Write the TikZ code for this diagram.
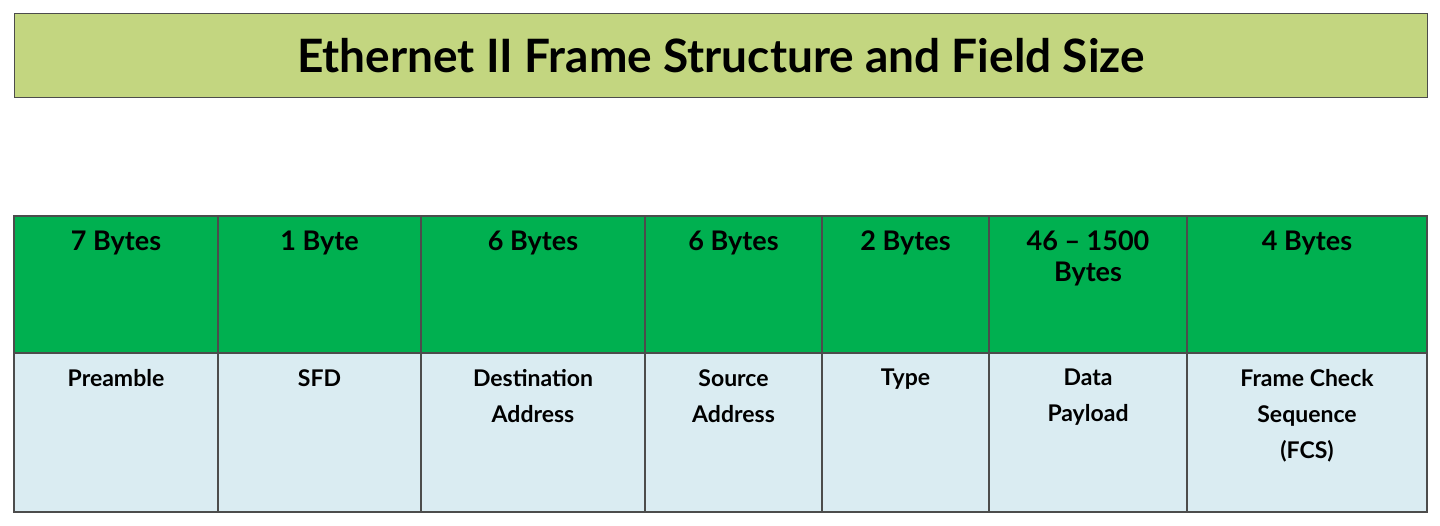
\documentclass[tikz,border=0pt]{standalone}
\usepackage{fontspec}
\setmainfont{Lato}
\definecolor{titlegreen}{RGB}{195,214,128}
\definecolor{hdrgreen}{RGB}{0,176,80}
\definecolor{cellblue}{RGB}{218,236,242}
\begin{document}
\begin{tikzpicture}[x=1pt,y=-1pt,
  cellline/.style={draw=black!70,line width=1.2pt},
  top/.style={anchor=north,align=center,font=\fontsize{27}{31}\selectfont\bfseries,inner sep=0},
  bot/.style={anchor=north,align=center,font=\fontsize{23}{36}\selectfont\bfseries,inner sep=0}]
\useasboundingbox (0,0) rectangle (1440,526);
\node[draw=black!70,line width=1.2pt,fill=titlegreen,minimum width=1413pt,minimum height=84pt,inner sep=0,anchor=north west,font=\fontsize{46}{50}\selectfont\bfseries] (title) at (14,13) {Ethernet II Frame Structure and Field Size};
\fill[hdrgreen] (14,216) rectangle (1427,353);
\fill[cellblue] (14,353) rectangle (1427,512);
\draw[cellline] (14,216) rectangle (1427,512);
\draw[cellline] (14,353) -- (1427,353);
\foreach \x in {218,421,645,822,989,1187}{\draw[cellline] (\x,216) -- (\x,512);}
\foreach \a/\b/\t/\u [count=\i] in {14/218/7 Bytes/Preamble, 218/421/1 Byte/SFD, 421/645/6 Bytes/Destination\\Address, 645/822/6 Bytes/Source\\Address, 822/989/2 Bytes/Type, 989/1187/46 -- 1500\\Bytes/Data\\Payload, 1187/1427/4 Bytes/Frame Check\\Sequence\\(FCS)}{
  \node[top] (h\i) at ({(\a+\b)/2},231) {\t};
  \node[bot] (f\i) at ({(\a+\b)/2},369) {\u};
}
\end{tikzpicture}
\end{document}
